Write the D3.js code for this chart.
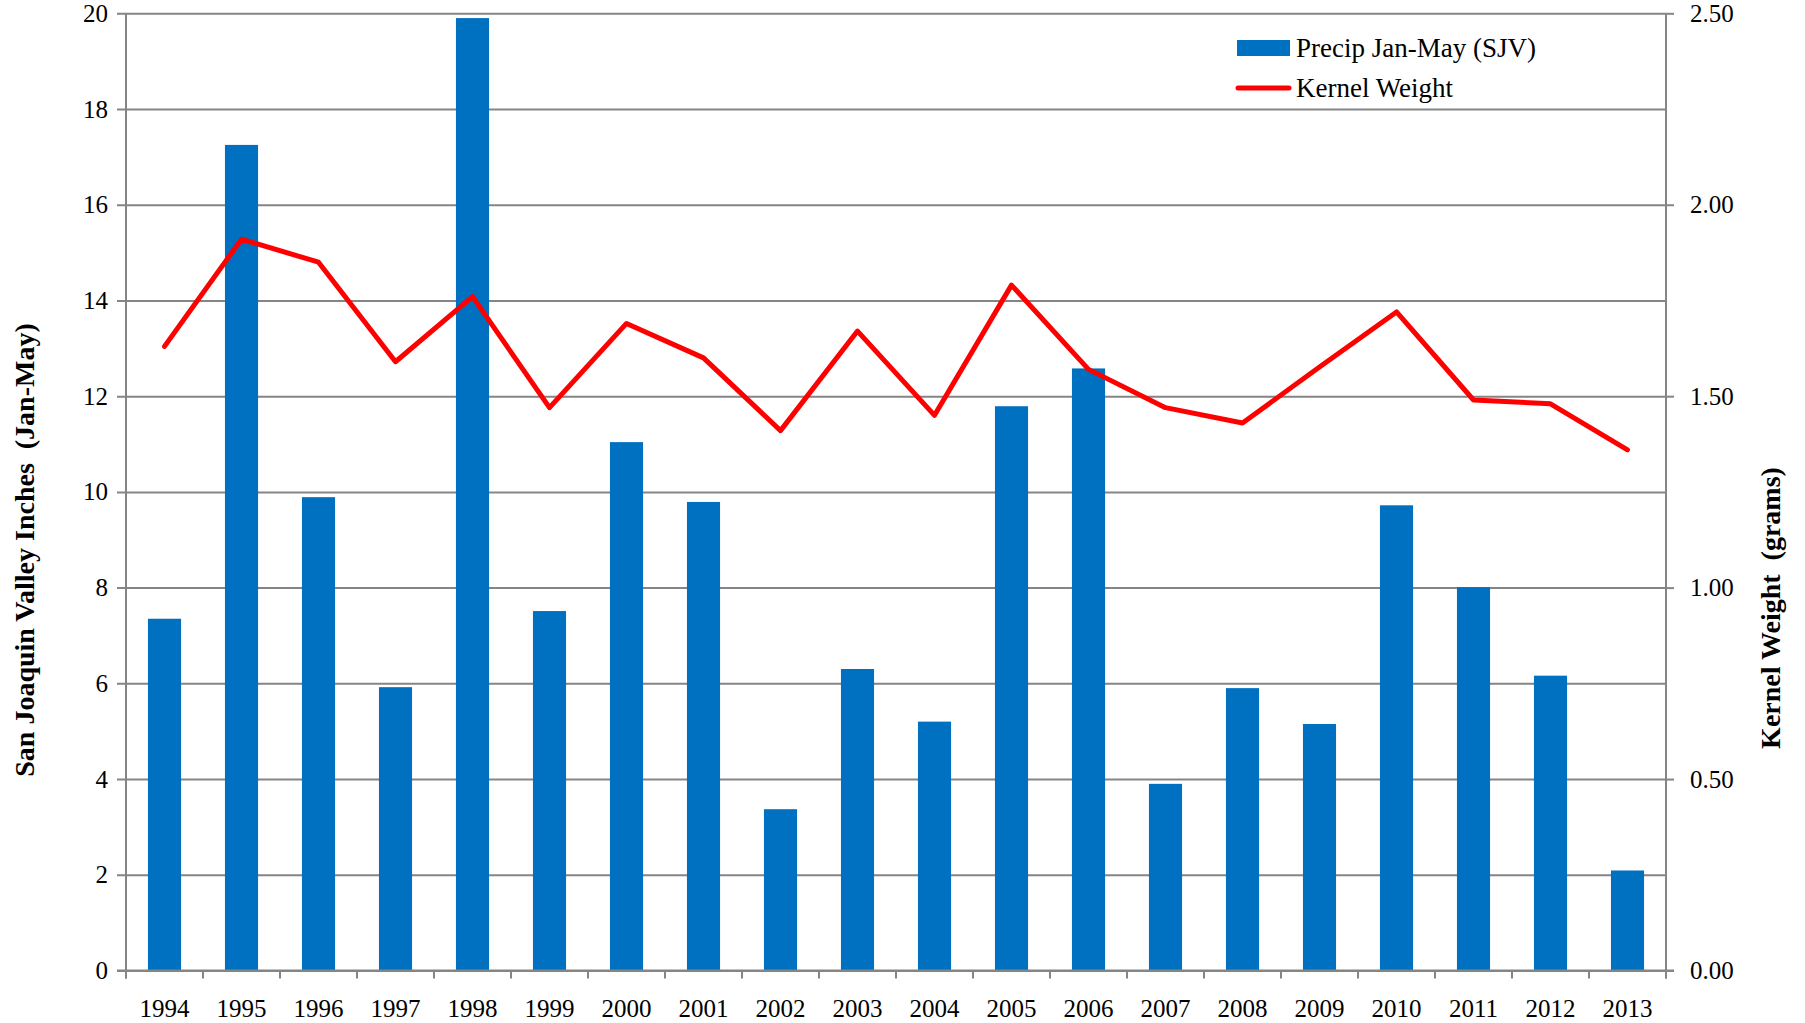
<!DOCTYPE html>
<html>
<head>
<meta charset="utf-8">
<script src="https://cdn.jsdelivr.net/npm/d3@7"></script>
<style>
	body { margin: 0; background: #fff; }
	svg { display: block; }
	svg text { font-family: "Liberation Serif", "DejaVu Serif", serif; }
	.title { font-weight: bold; white-space: pre; }
</style>
</head>
<body>
<div id="chart"></div>
<script>

var years = ['1994', '1995', '1996', '1997', '1998', '1999', '2000', '2001', '2002', '2003',
             '2004', '2005', '2006', '2007', '2008', '2009', '2010', '2011', '2012', '2013'];

// inches of rain, Jan-May
var precip = [7.35, 17.25, 9.89, 5.92, 19.9, 7.51, 11.04, 9.79, 3.37, 6.30,
              5.20, 11.79, 12.58, 3.90, 5.90, 5.15, 9.72, 8.01, 6.16, 2.09];

// grams
var kernelWeight = [1.63, 1.91, 1.85, 1.59, 1.76, 1.47, 1.69, 1.60, 1.41, 1.67,
                    1.45, 1.79, 1.57, 1.47, 1.43, 1.576, 1.72, 1.49, 1.48, 1.36];

var leftTicks = [0, 2, 4, 6, 8, 10, 12, 14, 16, 18, 20];
var rightTicks = [0, 0.5, 1, 1.5, 2, 2.5];

var seriesNames = ['Precip Jan-May (SJV)', 'Kernel Weight'];
var leftTitle = 'San Joaquin Valley Inches  (Jan-May)';
var rightTitle = 'Kernel Weight  (grams)';

var BLUE = '#0070c0', RED = '#ff0000', GRID = '#858585';

function mkChart(divid) {
	var W = 1805, H = 1023;
	var left = 126, right = 1666, top = 13.3, bottom = 970.5;

	var svg = d3.select(divid)
		.append('svg')
			.attr('width', W)
			.attr('height', H);

	var x = d3.scaleBand()
		.domain(years)
		.range([left, right])
		.paddingInner(0.57)
		.paddingOuter(0.285);

	var y = d3.scaleLinear().domain([0, 20]).range([bottom, top]);
	var y2 = d3.scaleLinear().domain([0, 2.5]).range([bottom, top]);

	// gridlines + left ticks
	svg.append('g')
		.attr('transform', 'translate(' + left + ',0)')
		.call(d3.axisLeft(y).tickValues(leftTicks).tickSize(-(right - left)).tickPadding(18).tickFormat(d3.format('d')))
		.call(function (g) {
			g.select('.domain').remove();
			g.selectAll('.tick line').attr('stroke', GRID).attr('stroke-width', 2).attr('x1', -9);
			g.selectAll('.tick text').attr('font-size', 25).attr('fill', '#000');
		});

	// bars
	svg.append('g')
		.selectAll('rect')
		.data(years)
		.join('rect')
			.attr('x', function (d) { return x(d); })
			.attr('y', function (d, i) { return y(precip[i]); })
			.attr('width', x.bandwidth())
			.attr('height', function (d, i) { return bottom - y(precip[i]); })
			.attr('fill', BLUE);

	// left axis line
	svg.append('line')
		.attr('x1', left).attr('x2', left)
		.attr('y1', top).attr('y2', bottom + 8)
		.attr('stroke', GRID).attr('stroke-width', 2);

	// right axis
	svg.append('g')
		.attr('transform', 'translate(' + right + ',0)')
		.call(d3.axisRight(y2).tickValues(rightTicks).tickSize(8).tickPadding(16).tickFormat(d3.format('.2f')))
		.call(function (g) {
			g.select('.domain').attr('stroke', GRID).attr('stroke-width', 2).attr('d', 'M0,' + top + 'V' + (bottom + 8));
			g.selectAll('.tick line').attr('stroke', GRID).attr('stroke-width', 2);
			g.selectAll('.tick text').attr('font-size', 25).attr('fill', '#000');
		});

	// x axis, ticks sit between categories
	var step = x.step();
	var bounds = d3.range(years.length + 1).map(function (i) { return left + i * step; });
	svg.append('line')
		.attr('x1', left - 9).attr('x2', right + 8)
		.attr('y1', bottom).attr('y2', bottom)
		.attr('stroke', GRID).attr('stroke-width', 2);
	svg.append('g')
		.selectAll('line')
		.data(bounds)
		.join('line')
			.attr('x1', function (d) { return d; })
			.attr('x2', function (d) { return d; })
			.attr('y1', bottom)
			.attr('y2', bottom + 8)
			.attr('stroke', GRID)
			.attr('stroke-width', 2);
	svg.append('g')
		.selectAll('text')
		.data(years)
		.join('text')
			.attr('x', function (d) { return x(d) + x.bandwidth() / 2; })
			.attr('y', 1017)
			.attr('text-anchor', 'middle')
			.attr('font-size', 25)
			.text(function (d) { return d; });

	// kernel weight line
	var line = d3.line()
		.x(function (d, i) { return x(years[i]) + x.bandwidth() / 2; })
		.y(function (d) { return y2(d); });
	svg.append('path')
		.datum(kernelWeight)
		.attr('d', line)
		.attr('fill', 'none')
		.attr('stroke', RED)
		.attr('stroke-width', 5)
		.attr('stroke-linejoin', 'round')
		.attr('stroke-linecap', 'round');

	// axis titles
	svg.append('text')
		.attr('class', 'title')
		.attr('transform', 'translate(34,550) rotate(-90)')
		.attr('text-anchor', 'middle')
		.attr('font-size', 28)
		.text(leftTitle);
	svg.append('text')
		.attr('class', 'title')
		.attr('transform', 'translate(1780,608) rotate(-90)')
		.attr('text-anchor', 'middle')
		.attr('font-size', 28)
		.text(rightTitle);

	// legend
	var lg = svg.append('g');
	lg.append('rect')
		.attr('x', 1237).attr('y', 40)
		.attr('width', 53).attr('height', 16)
		.attr('fill', BLUE);
	lg.append('line')
		.attr('x1', 1238).attr('x2', 1289)
		.attr('y1', 88).attr('y2', 88)
		.attr('stroke', RED).attr('stroke-width', 5)
		.attr('stroke-linecap', 'round');
	lg.selectAll('text')
		.data(seriesNames)
		.join('text')
			.attr('x', 1296)
			.attr('y', function (d, i) { return 57 + i * 40; })
			.attr('font-size', 27)
			.text(function (d) { return d; });
}

mkChart('#chart');
</script>
</body>
</html>
